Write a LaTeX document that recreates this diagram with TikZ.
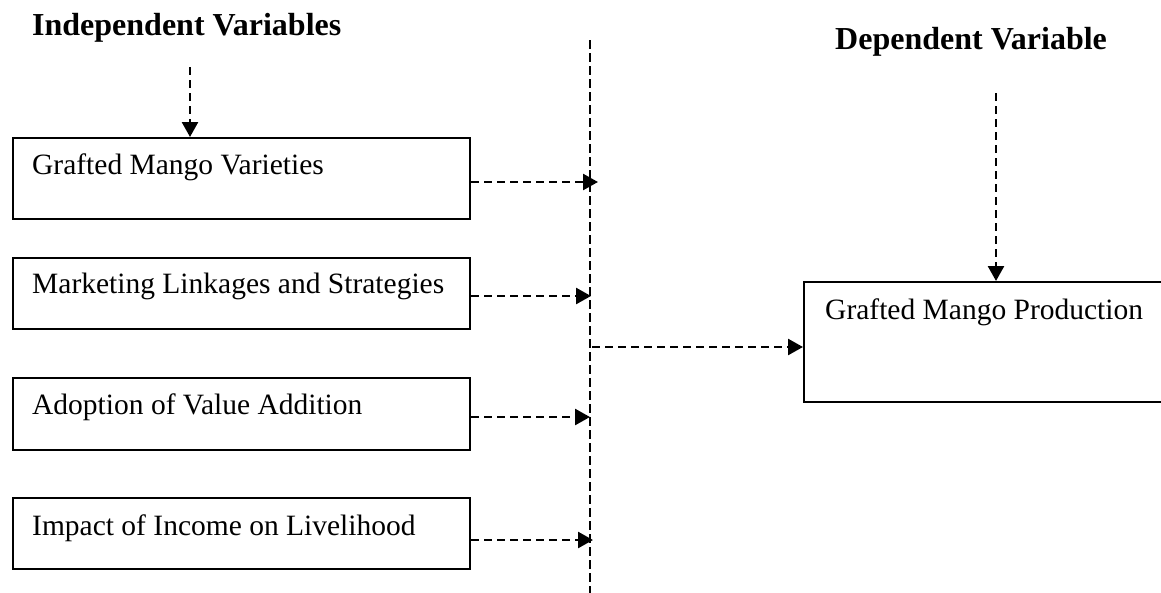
\documentclass[tikz,border=0pt]{standalone}
\usepackage{fontspec}
\setmainfont{Liberation Serif}
\usetikzlibrary{arrows.meta}
\tikzset{
  x=1pt, y=-1pt,
  varbox/.style={draw, line width=2.2pt, rectangle, anchor=north west, inner sep=0pt},
  boxtext/.style={anchor=base west, inner sep=0pt, font=\fontsize{29.5}{34}\selectfont},
  titletext/.style={anchor=base west, inner sep=0pt, font=\fontsize{32}{38}\selectfont\bfseries},
  dasharrow/.style={line width=2.6pt, dash pattern=on 8pt off 5pt, -{Triangle[length=15pt,width=16pt]}},
  vline/.style={line width=1.8pt, dash pattern=on 8.5pt off 4.5pt}
}
\begin{document}
\begin{tikzpicture}
\useasboundingbox (0,0) rectangle (1161,592);
\clip (0,0) rectangle (1161,592);
% titles
\node[titletext] (tind) at (32,35) {Independent Variables};
\node[titletext] (tdep) at (835,49) {Dependent Variable};
% left boxes
\node[varbox, minimum width=457pt, minimum height=81pt] (b1) at (12,137) {};
\node[varbox, minimum width=457pt, minimum height=71pt] (b2) at (12,257) {};
\node[varbox, minimum width=457pt, minimum height=72pt] (b3) at (12,377) {};
\node[varbox, minimum width=457pt, minimum height=71pt] (b4) at (12,497) {};
\node[boxtext] (x1) at (32,174) {Grafted Mango Varieties};
\node[boxtext] (x2) at (32,293) {Marketing Linkages and Strategies};
\node[boxtext] (x3) at (32,414) {Adoption of Value Addition};
\node[boxtext] (x4) at (32,535) {Impact of Income on Livelihood};
% right box
\node[varbox, minimum width=400pt, minimum height=120pt] (rb) at (803,281) {};
\node[boxtext] (rt) at (825,319) {Grafted Mango Production};
% vertical dashed line
\coordinate (vtop) at (590,40);
\coordinate (vbot) at (590,595);
\draw[vline] (vtop) -- (vbot);
% arrow tips on the line
\coordinate (t1) at (598,182);
\coordinate (t2) at (591,296);
\coordinate (t3) at (590,417);
\coordinate (t4) at (593,540);
\draw[dasharrow] (b1.east |- t1) -- (t1);
\draw[dasharrow] (b2.east |- t2) -- (t2);
\draw[dasharrow] (b3.east |- t3) -- (t3);
\draw[dasharrow] (b4.east |- t4) -- (t4);
% arrow to dependent box
\coordinate (m) at (592,347);
\draw[dasharrow] (m) -- (rb.west |- m);
% top arrows
\coordinate (sa) at (190,67);
\coordinate (sb) at (996,93);
\draw[dasharrow] (sa) -- (b1.north -| sa);
\draw[dasharrow] (sb) -- (rb.north -| sb);
\end{tikzpicture}
\end{document}
